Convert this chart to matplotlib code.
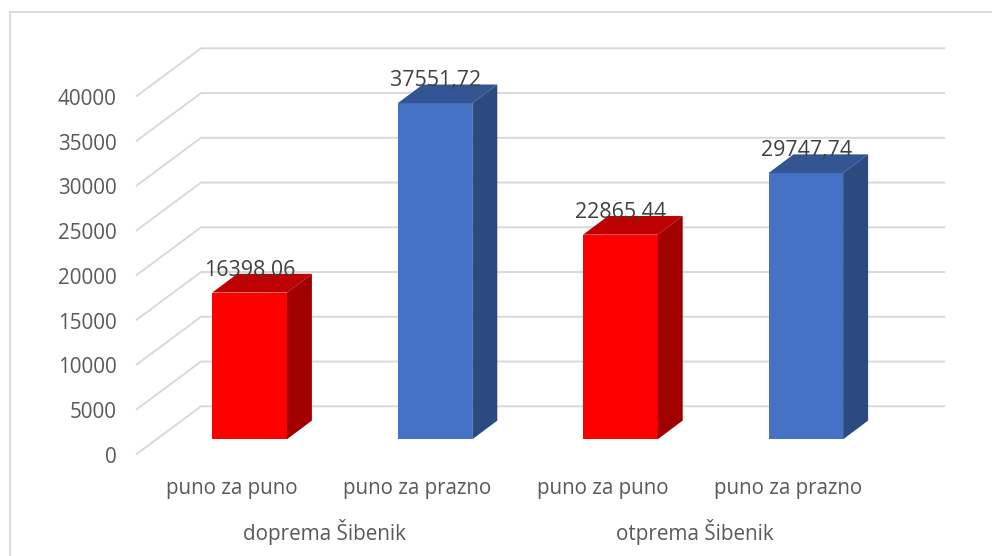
import matplotlib
matplotlib.use("Agg")
import matplotlib.pyplot as plt
from matplotlib.patches import Polygon

plt.rcParams['font.family'] = ['Open Sans', 'DejaVu Sans']

groups = ["doprema Šibenik", "otprema Šibenik"]
categories = ["puno za puno", "puno za prazno", "puno za puno", "puno za prazno"]
values = [16398.06, 37551.72, 22865.44, 29747.74]
ticks = [0, 5000, 10000, 15000, 20000, 25000, 30000, 35000, 40000]

W, H = 992, 556
# bar plane in pixels
X0, X_STEP = 249.6, 185.4
Y0, Y_SCALE = 439.3, 0.00895

RED, RED_TOP, RED_SIDE = "#ff0000", "#bd0000", "#a00000"
BLUE, BLUE_TOP, BLUE_SIDE = "#4472c4", "#345594", "#2a4a80"


def dx(px):
    return px / X_STEP


def dy(px):
    return px / Y_SCALE


fig = plt.figure(figsize=(W / 100, H / 100), dpi=100)
ax = fig.add_axes([0, 0, 1, 1])
ax.set_xlim(-X0 / X_STEP, (W - X0) / X_STEP)
ax.set_ylim(-(H - Y0) / Y_SCALE, Y0 / Y_SCALE)
ax.axis("off")

# chart border, only left and top are in the picture
ax.plot([dx(10 - X0), dx(10 - X0), dx(W - X0)],
        [dy(Y0 - H), dy(Y0 - 12), dy(Y0 - 12)], color="#d9d9d9", lw=1.3, zorder=1)

# gridlines: front corner, back corner, right end
for t in ticks:
    ax.plot([dx(136.7 - X0), dx(201 - X0), dx(944.3 - X0)],
            [t - dy(14.7), t + dy(33), t + dy(33)], color="#d9d9d9", lw=1.4, zorder=1)
    ax.text(dx(116.5 - X0), t - dy(18), str(t), ha="right", va="center",
            fontsize=14.9, color="#595959")

bar_w = dx(74.6)
depth_x, depth_y = dx(25), dy(18.7)
for i, v in enumerate(values):
    face, top, side = (RED, RED_TOP, RED_SIDE) if i % 2 == 0 else (BLUE, BLUE_TOP, BLUE_SIDE)
    l, r = i - bar_w / 2, i + bar_w / 2
    ax.bar(i, v, width=bar_w, color=face, zorder=3)
    ax.add_patch(Polygon([(l, v), (r, v), (r + depth_x, v + depth_y), (l + depth_x, v + depth_y)],
                         closed=True, fc=top, ec="none", zorder=3))
    ax.add_patch(Polygon([(r, 0), (r + depth_x, depth_y), (r + depth_x, v + depth_y), (r, v)],
                         closed=True, fc=side, ec="none", zorder=3))
    ax.text(i + dx(0.5), v + dy(22.5), f"{v:.2f}".replace(".", ","), ha="center", va="center",
            fontsize=15.4, color="#404040", zorder=4)
    ax.text(i - dx(18), -dy(49), categories[i], ha="center", va="center",
            fontsize=14.8, color="#595959")

for j, g in enumerate(groups):
    ax.text(2 * j + 0.5 - dx(18), -dy(92.7), g, ha="center", va="center",
            fontsize=14.9, color="#595959")

fig.savefig("out.png", dpi=100)
